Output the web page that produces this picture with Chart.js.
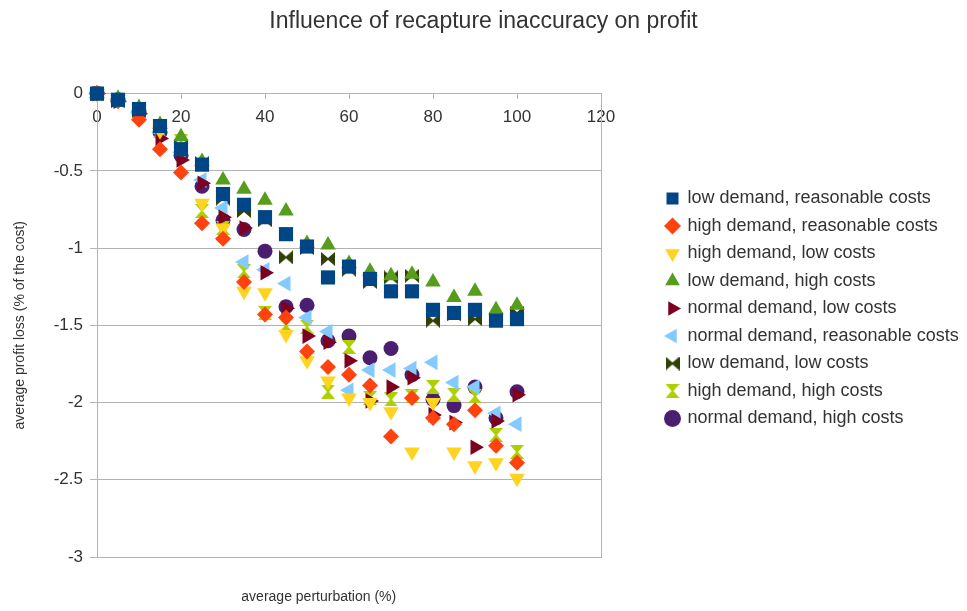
<!DOCTYPE html>
<html>
<head>
    <meta charset="utf-8">
    <title>Influence of recapture inaccuracy on profit</title>
    <style>
        html, body { margin: 0; padding: 0; background: #fff; }
        #chart { display: block; }
    </style>
</head>
<body>
    <canvas id="chart" width="967" height="611"></canvas>

    <script src="https://cdn.jsdelivr.net/npm/chart.js"></script>
    <script>
        // x values: average perturbation (%)
        const perturbation = [0, 5, 10, 15, 20, 25, 30, 35, 40, 45, 50, 55, 60, 65, 70, 75, 80, 85, 90, 95, 100];

        // y values: average profit loss (% of the cost)
        const lowDemandReasonableCosts    = [0, -0.04, -0.10, -0.21, -0.36, -0.46, -0.65, -0.72, -0.80, -0.91, -0.99, -1.19, -1.12, -1.20, -1.28, -1.28, -1.40, -1.42, -1.40, -1.47, -1.46];
        const highDemandReasonableCosts   = [0, -0.05, -0.17, -0.36, -0.51, -0.84, -0.94, -1.22, -1.43, -1.45, -1.67, -1.77, -1.82, -1.89, -2.22, -1.97, -2.10, -2.14, -2.05, -2.28, -2.39];
        const highDemandLowCosts          = [0, -0.04, -0.13, -0.24, -0.35, -0.71, -0.87, -1.28, -1.29, -1.56, -1.73, -1.86, -1.97, -2.00, -2.06, -2.32, -2.00, -2.32, -2.41, -2.39, -2.49];
        const lowDemandHighCosts          = [0, -0.03, -0.09, -0.20, -0.28, -0.44, -0.56, -0.62, -0.69, -0.76, -0.97, -0.98, -1.10, -1.15, -1.18, -1.17, -1.22, -1.32, -1.28, -1.40, -1.37];
        const normalDemandLowCosts        = [0, -0.05, -0.13, -0.29, -0.43, -0.58, -0.80, -0.87, -1.16, -1.39, -1.57, -1.61, -1.73, -1.99, -1.90, -1.84, -2.08, -2.13, -2.29, -2.12, -1.95];
        const normalDemandReasonableCosts = [0, -0.04, -0.12, -0.25, -0.38, -0.56, -0.74, -1.09, -1.14, -1.23, -1.45, -1.54, -1.92, -1.79, -1.79, -1.78, -1.74, -1.87, -1.90, -2.07, -2.14];
        const lowDemandLowCosts           = [0, -0.05, -0.11, -0.22, -0.34, -0.45, -0.68, -0.76, -0.82, -1.06, -1.00, -1.07, -1.14, -1.22, -1.19, -1.18, -1.47, -1.43, -1.46, -1.46, -1.42];
        const highDemandHighCosts         = [0, -0.04, -0.12, -0.24, -0.31, -0.76, -0.87, -1.15, -1.42, -1.50, -1.51, -1.93, -1.64, -1.97, -1.98, -1.96, -1.90, -1.95, -1.96, -2.21, -2.32];
        const normalDemandHighCosts       = [0, -0.04, -0.12, -0.25, -0.40, -0.60, -0.82, -0.88, -1.02, -1.38, -1.37, -1.60, -1.57, -1.71, -1.65, -1.82, -1.98, -2.02, -1.90, -2.10, -1.93];

        const seriesNames = [
            'low demand, reasonable costs',
            'high demand, reasonable costs',
            'high demand, low costs',
            'low demand, high costs',
            'normal demand, low costs',
            'normal demand, reasonable costs',
            'low demand, low costs',
            'high demand, high costs',
            'normal demand, high costs'
        ];
        const seriesValues = [
            lowDemandReasonableCosts, highDemandReasonableCosts, highDemandLowCosts,
            lowDemandHighCosts, normalDemandLowCosts, normalDemandReasonableCosts,
            lowDemandLowCosts, highDemandHighCosts, normalDemandHighCosts
        ];

        const yTicks = { min: -3, max: 0, step: 0.5 };
        const xTicks = { min: 0, max: 120, step: 20 };

        const chartTitle = 'Influence of recapture inaccuracy on profit';
        const xAxisTitle = 'average perturbation (%)';
        const yAxisTitle = 'average profit loss (% of the cost)';

        // styling
        const FONT = '"Liberation Sans", Arial, sans-serif';
        const TEXT = '#333333';
        const GRID = '#b3b3b3';
        const colors = ['#004586', '#ff420e', '#ffd320', '#579d1c', '#7e0021', '#83caff', '#314004', '#aecf00', '#4b1f6f'];

        // hourglass / bowtie markers are not built into Chart.js, so draw them once on small canvases
        function bowtie(color, vertical) {
            const s = 14;
            const c = document.createElement('canvas');
            c.width = s;
            c.height = s;
            const g = c.getContext('2d');
            g.fillStyle = color;
            g.beginPath();
            if (vertical) {
                g.moveTo(0, 0); g.lineTo(s, 0); g.lineTo(s / 2 + 1, s / 2); g.lineTo(s / 2 - 1, s / 2); g.closePath();
                g.moveTo(0, s); g.lineTo(s, s); g.lineTo(s / 2 + 1, s / 2); g.lineTo(s / 2 - 1, s / 2); g.closePath();
            } else {
                g.moveTo(0, 0); g.lineTo(0, s); g.lineTo(s / 2, s / 2 + 1); g.lineTo(s / 2, s / 2 - 1); g.closePath();
                g.moveTo(s, 0); g.lineTo(s, s); g.lineTo(s / 2, s / 2 + 1); g.lineTo(s / 2, s / 2 - 1); g.closePath();
            }
            g.fill();
            return c;
        }

        const markers = [
            { style: 'rect', rotation: 0, radius: 10 },
            { style: 'rectRot', rotation: 0, radius: 8 },
            { style: 'triangle', rotation: 180, radius: 9 },
            { style: 'triangle', rotation: 0, radius: 9 },
            { style: 'triangle', rotation: 90, radius: 9 },
            { style: 'triangle', rotation: -90, radius: 9 },
            { style: bowtie(colors[6], false), rotation: 0, radius: 7 },
            { style: bowtie(colors[7], true), rotation: 0, radius: 7 },
            { style: 'circle', rotation: 0, radius: 7.5 }
        ];

        const datasets = seriesNames.map((name, i) => ({
            label: name,
            data: perturbation.map((x, j) => ({ x: x, y: seriesValues[i][j] })),
            xAxisID: 'x',
            yAxisID: 'y',
            backgroundColor: colors[i],
            borderColor: colors[i],
            pointStyle: markers[i].style,
            rotation: markers[i].rotation,
            pointRadius: markers[i].radius,
            pointBorderWidth: 0,
            borderWidth: 0,
            showLine: false,
            clip: false
        }));

        // x axis title sits low and a bit left of the plot centre, as in the original
        const xTitlePlugin = {
            id: 'xTitle',
            afterDraw(chart) {
                const area = chart.chartArea;
                const ctx = chart.ctx;
                ctx.save();
                ctx.font = '14px ' + FONT;
                ctx.fillStyle = TEXT;
                ctx.textAlign = 'center';
                ctx.textBaseline = 'middle';
                ctx.fillText(xAxisTitle, area.left + area.width * 0.44, area.bottom + 40);
                ctx.restore();
            }
        };

        new Chart(document.getElementById('chart'), {
            type: 'scatter',
            data: { datasets: datasets },
            plugins: [xTitlePlugin],
            options: {
                responsive: false,
                animation: false,
                events: [],
                layout: { padding: { top: 6, right: 0, left: 0, bottom: 0 } },
                plugins: {
                    title: {
                        display: true,
                        text: chartTitle,
                        color: TEXT,
                        font: { family: FONT, size: 23, weight: 'normal' },
                        padding: { top: 2, bottom: 58 }
                    },
                    legend: {
                        position: 'right',
                        align: 'center',
                        maxWidth: 310,
                        labels: {
                            usePointStyle: true,
                            boxWidth: 12,
                            boxHeight: 12,
                            padding: 9.5,
                            color: TEXT,
                            font: { family: FONT, size: 18 }
                        }
                    },
                    tooltip: { enabled: false }
                },
                scales: {
                    x: {
                        type: 'linear',
                        min: xTicks.min,
                        max: xTicks.max,
                        position: { y: 0 },
                        ticks: { stepSize: xTicks.step, color: TEXT, padding: 9, font: { family: FONT, size: 17 } },
                        grid: { drawOnChartArea: false, tickLength: 5, color: GRID },
                        border: { color: GRID }
                    },
                    y: {
                        type: 'linear',
                        min: yTicks.min,
                        max: yTicks.max,
                        position: 'left',
                        ticks: {
                            stepSize: yTicks.step,
                            color: TEXT,
                            padding: 7,
                            font: { family: FONT, size: 17 },
                            callback: v => String(v)
                        },
                        grid: { color: GRID, tickLength: 7 },
                        border: { color: GRID },
                        title: {
                            display: true,
                            text: yAxisTitle,
                            color: TEXT,
                            font: { family: FONT, size: 14 },
                            padding: { top: 12, bottom: 0 }
                        },
                        afterFit(scale) { scale.width = 97; }
                    },
                    // empty right axis: gives the plot its right border and the gap before the legend
                    yGap: {
                        type: 'linear',
                        position: 'right',
                        grid: { display: false },
                        ticks: { display: false },
                        border: { color: GRID },
                        afterFit(scale) { scale.width = 56; }
                    },
                    // empty bottom axis: reserves room under the plot for the x title
                    xFoot: {
                        type: 'linear',
                        position: 'bottom',
                        grid: { display: false },
                        ticks: { display: false },
                        border: { display: false },
                        afterFit(scale) { scale.height = 54; }
                    }
                }
            }
        });
    </script>
</body>
</html>
